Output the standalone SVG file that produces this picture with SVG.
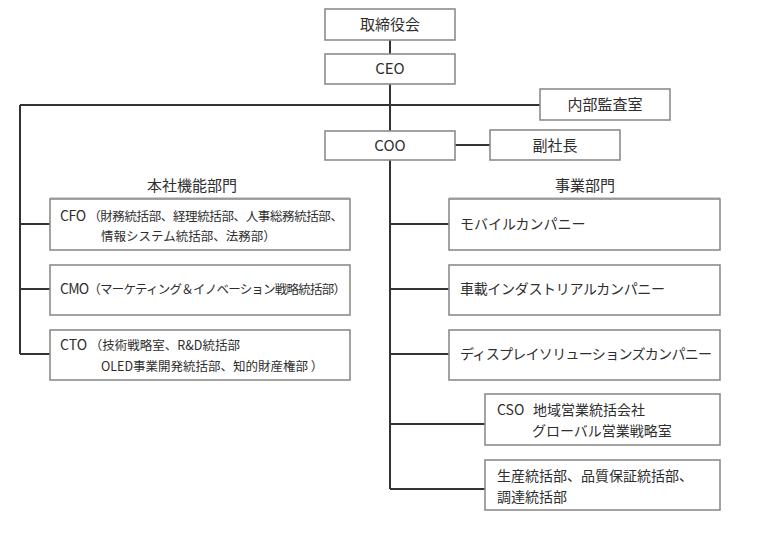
<svg xmlns="http://www.w3.org/2000/svg" width="780" height="540" viewBox="0 0 780 540">
<style>
.box{fill:#fff;stroke:#8c8c8c;stroke-width:1.6}
.con{fill:none;stroke:#333;stroke-width:2}
.ul{stroke:#a0a0a0;stroke-width:1}
text{font-family:"Noto Sans CJK JP","Noto Sans",sans-serif;fill:#2e2e2e}
.c{text-anchor:middle;font-size:15px}
.h{text-anchor:middle;font-size:15px}
.l{font-size:12.5px}
.r{font-size:14px}
.lat{font-size:14px}
</style>
<rect width="780" height="540" fill="#fff"/>
<g id="connectors">
<path class="con" d="M390 40V54M390 84V131M20 105H540M20 105V354M20 224H50M20 289H50M20 354H50M455 145H490M390 160V489M390 224H449M390 289H449M390 354H449M390 424H485M390 489H485"/>
</g>
<g id="board"><rect class="box" x="325" y="9" width="130" height="31"/><text class="c" x="390" y="30">取締役会</text></g>
<g id="ceo"><rect class="box" x="325" y="54" width="130" height="30"/><text class="c" x="390" y="74">CEO</text></g>
<g id="audit"><rect class="box" x="540" y="89" width="130" height="31"/><text class="c" x="605" y="110">内部監査室</text></g>
<g id="coo"><rect class="box" x="325" y="131" width="130" height="29"/><text class="c" x="390" y="151">COO</text></g>
<g id="vp"><rect class="box" x="490" y="130" width="130" height="30"/><text class="c" x="555" y="151">副社長</text></g>
<g id="hq-header"><text class="h" x="192" y="191">本社機能部門</text><line class="ul" x1="50" y1="198" x2="350" y2="198"/></g>
<g id="biz-header"><text class="h" x="585" y="191">事業部門</text><line class="ul" x1="449" y1="198" x2="720" y2="198"/></g>
<g id="cfo"><rect class="box" x="50" y="199" width="300" height="51"/><text class="l" x="60" y="221" textLength="283" lengthAdjust="spacing"><tspan class="lat">CFO</tspan> （財務統括部、経理統括部、人事総務統括部、</text><text class="l" x="101" y="241">情報システム統括部、法務部）</text></g>
<g id="cmo"><rect class="box" x="50" y="265" width="300" height="50"/><text class="l" x="60" y="294" textLength="286" lengthAdjust="spacing"><tspan class="lat">CMO</tspan>（マーケティング＆イノベーション戦略統括部）</text></g>
<g id="cto"><rect class="box" x="50" y="330" width="300" height="50"/><text class="l" x="60" y="350"><tspan class="lat">CTO</tspan> （技術戦略室、R&amp;D統括部</text><text class="l" x="101" y="371">OLED事業開発統括部、知的財産権部 ）</text></g>
<g id="mobile"><rect class="box" x="449" y="199" width="271" height="51"/><text class="r" x="460" y="229">モバイルカンパニー</text></g>
<g id="auto"><rect class="box" x="449" y="265" width="271" height="50"/><text class="r" x="460" y="294" textLength="205" lengthAdjust="spacing">車載インダストリアルカンパニー</text></g>
<g id="display"><rect class="box" x="449" y="330" width="271" height="50"/><text class="r" x="460" y="359" textLength="252" lengthAdjust="spacing">ディスプレイソリューションズカンパニー</text></g>
<g id="cso"><rect class="box" x="485" y="394" width="235" height="51"/><text class="r" x="497" y="415">CSO<tspan x="533">地域営業統括会社</tspan></text><text class="r" x="532" y="436">グローバル営業戦略室</text></g>
<g id="prod"><rect class="box" x="485" y="460" width="235" height="50"/><text class="r" x="497" y="481">生産統括部、品質保証統括部、</text><text class="r" x="497" y="502">調達統括部</text></g>
</svg>
